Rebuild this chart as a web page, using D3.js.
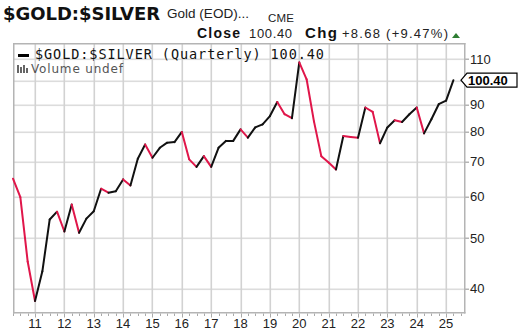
<!DOCTYPE html>
<html><head><meta charset="utf-8">
<script src="https://cdn.jsdelivr.net/npm/d3@7"></script>
<style>html,body{margin:0;padding:0;background:#fff;}svg{display:block;}</style>
</head><body>
<script>
// ---- data ----
const firstQuarter = {year: 2010, q: 2};
const ratioValues = [65.0, 59.9, 45.1, 37.9, 43.2, 54.3, 56.2, 51.5, 58.0, 51.2,
  54.5, 56.3, 62.2, 61.1, 61.5, 64.8, 63.1, 71.0, 75.6, 71.3,
  74.5, 76.2, 76.4, 79.9, 70.8, 68.5, 71.8, 68.5, 74.5, 76.8,
  76.8, 80.8, 77.9, 81.5, 82.6, 85.7, 91.2, 86.4, 84.9, 108.6,
  100.8, 83.7, 71.8, 69.8, 67.7, 78.5, 78.1, 77.9, 89.0, 87.3,
  76.0, 81.5, 84.1, 83.5, 86.4, 89.0, 79.4, 84.5, 90.3, 91.72, 100.40];
const yearTicks = [2011,2012,2013,2014,2015,2016,2017,2018,2019,2020,2021,2022,2023,2024,2025];
const yearLabels = ["11","12","13","14","15","16","17","18","19","20","21","22","23","24","25"];
const yTicks = [40,50,60,70,80,90,100,110];
const yLabels = ["40","50","60","70","80","90","","110"];
const lastValue = "100.40";
const titleText = "$GOLD:$SILVER";
const subText = "Gold (EOD)...";
const exchText = "CME";
const closeVal = "100.40";
const chgVal = "+8.68 (+9.47%)";
const legendText = "$GOLD:$SILVER (Quarterly) 100.40";
const volumeText = "Volume undef";

// positions of quarters (fractional year, quarter start)
const qTimes = ratioValues.map((_, i) => firstQuarter.year + (firstQuarter.q - 1) / 4 + i / 4);

const W = 528, H = 336;
const L = 13, R = 464, T = 43, B = 312;
const svg = d3.select("body").append("svg").attr("width", W).attr("height", H);

const x = d3.scaleLinear().domain([2010.25, 2025.61]).range([L, R]);
const y = d3.scaleLog().domain([36.1, 118.3]).range([B, T]);

// grid
const gh = svg.append("g");
gh.selectAll("rect").data(yTicks).join("rect")
  .attr("x", L).attr("width", R - L).attr("y", d => Math.round(y(d)) - 0.5).attr("height", 1.6)
  .attr("fill", "#dcdcdc");
const gv = svg.append("g");
gv.selectAll("rect").data(yearTicks).join("rect")
  .attr("y", T).attr("height", B - T).attr("x", d => Math.round(x(d)) - 0.5).attr("width", 1.6)
  .attr("fill", "#d2d2d2");
// frame
const fr = svg.append("g").attr("fill", "#b4b4b4");
fr.append("rect").attr("x", L).attr("y", T).attr("width", R - L + 1.5).attr("height", 1.5);
fr.append("rect").attr("x", L).attr("y", B).attr("width", R - L + 1.5).attr("height", 1.5);
fr.append("rect").attr("x", L).attr("y", T).attr("width", 1.5).attr("height", B - T + 1.5);
fr.append("rect").attr("x", R).attr("y", T).attr("width", 1.5).attr("height", B - T + 1.5);

// bottom minor ticks (quarterly)
const minorTimes = d3.range(2010.25, 2025.6, 0.25);
svg.append("g").selectAll("rect").data(minorTimes).join("rect")
  .attr("x", d => Math.round(x(d))).attr("width", 1)
  .attr("y", B + 1.5).attr("height", d => Math.abs(d - Math.round(d)) < 1e-6 ? 4 : 2.5)
  .attr("fill", "#aaa");
// right ticks
svg.append("g").selectAll("rect").data(yTicks).join("rect")
  .attr("x", R).attr("width", 5).attr("y", d => Math.round(y(d)) - 0.5).attr("height", 1.5)
  .attr("fill", "#b4b4b4");

// axis labels
svg.append("g").selectAll("text").data(yearTicks).join("text")
  .attr("x", d => x(d)).attr("y", 328).attr("text-anchor", "middle")
  .attr("font-family", "Liberation Sans, Arial, sans-serif").attr("font-size", 13).attr("fill", "#222")
  .text((d, i) => yearLabels[i]);
svg.append("g").selectAll("text").data(yTicks).join("text")
  .attr("x", 470).attr("y", d => y(d) + 4.5)
  .attr("font-family", "Liberation Sans, Arial, sans-serif").attr("font-size", 13).attr("fill", "#222")
  .text((d, i) => yLabels[i]);

// line segments colored by direction
const line = d3.line().x(d => x(d[0])).y(d => y(d[1]));
const segs = d3.range(ratioValues.length - 1).map(i => ({
  pts: [[qTimes[i], ratioValues[i]], [qTimes[i + 1], ratioValues[i + 1]]],
  down: ratioValues[i + 1] < ratioValues[i]
}));
svg.append("g").selectAll("path").data(segs).join("path")
  .attr("d", d => line(d.pts)).attr("fill", "none")
  .attr("stroke", d => d.down ? "#e0164a" : "#111")
  .attr("stroke-width", 2).attr("stroke-linecap", "round").attr("stroke-linejoin", "round");

// last value flag
const ly = y(ratioValues[ratioValues.length - 1]);
const fx = 461, fw = 56, fh = 14;
svg.append("path")
  .attr("d", `M${fx},${ly} L${fx + 6},${ly - fh / 2} L${fx + fw},${ly - fh / 2} L${fx + fw},${ly + fh / 2} L${fx + 6},${ly + fh / 2} Z`)
  .attr("fill", "#fff").attr("stroke", "#000").attr("stroke-width", 1.2);
svg.append("text").attr("x", fx + 7).attr("y", ly + 4.5)
  .attr("font-family", "Liberation Sans, Arial, sans-serif").attr("font-size", 13).attr("font-weight", "bold")
  .attr("fill", "#000").text(lastValue);

// header
svg.append("text").attr("x", 3).attr("y", 20)
  .attr("font-family", "DejaVu Sans, Verdana, sans-serif").attr("font-size", 18).attr("font-weight", "bold")
  .attr("fill", "#111").attr("textLength", 157).text(titleText);
svg.append("text").attr("x", 167).attr("y", 18)
  .attr("font-family", "Liberation Sans, Arial, sans-serif").attr("font-size", 13.5).attr("fill", "#222")
  .attr("textLength", 82).text(subText);
svg.append("text").attr("x", 268).attr("y", 22)
  .attr("font-family", "Liberation Sans, Arial, sans-serif").attr("font-size", 11.5).attr("fill", "#222")
  .attr("textLength", 26).text(exchText);

const hf = "Liberation Sans, Arial, sans-serif";
svg.append("text").attr("x", 197).attr("y", 38).attr("font-family", hf).attr("font-size", 14).attr("font-weight", "bold")
  .attr("fill", "#111").attr("textLength", 43).text("Close");
svg.append("text").attr("x", 249).attr("y", 38).attr("font-family", hf).attr("font-size", 13).attr("fill", "#222")
  .attr("textLength", 43).text(closeVal);
svg.append("text").attr("x", 305).attr("y", 38).attr("font-family", hf).attr("font-size", 15).attr("font-weight", "bold")
  .attr("fill", "#111").attr("textLength", 32).text("Chg");
svg.append("text").attr("x", 342).attr("y", 38).attr("font-family", hf).attr("font-size", 13).attr("fill", "#222")
  .attr("textLength", 106).text(chgVal);
svg.append("path").attr("d", "M452,38 L456,33 L460,38 Z").attr("fill", "#2e7d32");

// legend
svg.append("rect").attr("x", 18).attr("y", 54).attr("width", 11).attr("height", 3).attr("fill", "#000");
svg.append("text").attr("x", 35).attr("y", 59)
  .attr("font-family", "DejaVu Sans Mono, monospace").attr("font-size", 13.5).attr("fill", "#111")
  .attr("textLength", 289).attr("lengthAdjust", "spacing").text(legendText);
const ib = svg.append("g").attr("fill", "#666");
[[17,3,8],[20,3,6],[23,3,8],[26,3,5]].forEach(b => ib.append("rect").attr("x", b[0]).attr("y", 73 - b[2]).attr("width", 2).attr("height", b[2]));
svg.append("text").attr("x", 31).attr("y", 73)
  .attr("font-family", "DejaVu Sans, Verdana, sans-serif").attr("font-size", 12).attr("fill", "#555")
  .attr("textLength", 92).text(volumeText);
</script>
</body></html>
